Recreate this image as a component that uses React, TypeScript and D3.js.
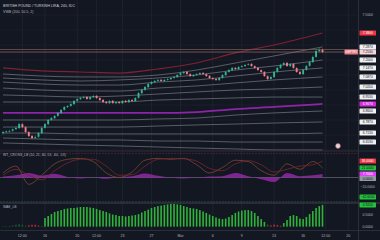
import React from "react";
import * as d3 from "d3";

const W = 380;
const H = 240;

const opens = [6.712, 6.719, 6.725, 6.728, 6.739, 6.746, 6.772, 6.752, 6.719, 6.694,
  6.681, 6.688, 6.712, 6.748, 6.772, 6.801, 6.812, 6.828, 6.846, 6.868,
  6.886, 6.894, 6.906, 6.928, 6.939, 6.948, 6.954, 6.939, 6.952, 6.961,
  6.946, 6.934, 6.921, 6.912, 6.928, 6.912, 6.921, 6.912, 6.928, 6.919,
  6.934, 6.926, 6.948, 6.979, 7.001, 7.019, 7.041, 7.052, 7.061, 7.068,
  7.059, 7.068, 7.072, 7.081, 7.086, 7.101, 7.112, 7.121, 7.106, 7.092,
  7.101, 7.106, 7.114, 7.106, 7.094, 7.079, 7.074, 7.066, 7.081, 7.099,
  7.121, 7.132, 7.148, 7.139, 7.154, 7.159, 7.168, 7.174, 7.159, 7.148,
  7.132, 7.121, 7.092, 7.074, 7.086, 7.121, 7.146, 7.168, 7.181, 7.159,
  7.174, 7.146, 7.121, 7.106, 7.134, 7.161, 7.186, 7.221, 7.259, 7.268];
const highs = [6.728, 6.731, 6.735, 6.744, 6.758, 6.782, 6.779, 6.760, 6.726, 6.700,
  6.697, 6.720, 6.755, 6.780, 6.808, 6.820, 6.834, 6.853, 6.874, 6.893,
  6.900, 6.915, 6.934, 6.947, 6.955, 6.962, 6.960, 6.959, 6.968, 6.966,
  6.952, 6.940, 6.927, 6.934, 6.933, 6.927, 6.926, 6.933, 6.934, 6.940,
  6.939, 6.953, 6.987, 7.008, 7.027, 7.047, 7.060, 7.068, 7.074, 7.073,
  7.075, 7.080, 7.087, 7.094, 7.107, 7.120, 7.128, 7.127, 7.112, 7.106,
  7.114, 7.120, 7.119, 7.111, 7.100, 7.085, 7.079, 7.087, 7.107, 7.127,
  7.141, 7.155, 7.153, 7.161, 7.167, 7.174, 7.180, 7.179, 7.165, 7.153,
  7.138, 7.126, 7.098, 7.093, 7.128, 7.155, 7.175, 7.189, 7.187, 7.180,
  7.179, 7.152, 7.126, 7.140, 7.168, 7.195, 7.229, 7.272, 7.280, 7.276];
const lows = [6.704, 6.713, 6.718, 6.722, 6.733, 6.740, 6.745, 6.712, 6.685, 6.672,
  6.674, 6.682, 6.706, 6.742, 6.766, 6.795, 6.806, 6.822, 6.840, 6.862,
  6.880, 6.888, 6.900, 6.922, 6.933, 6.942, 6.934, 6.933, 6.946, 6.940,
  6.926, 6.913, 6.906, 6.906, 6.907, 6.906, 6.907, 6.906, 6.914, 6.913,
  6.920, 6.920, 6.942, 6.973, 6.995, 7.013, 7.035, 7.046, 7.055, 7.054,
  7.053, 7.062, 7.066, 7.075, 7.080, 7.095, 7.106, 7.100, 7.086, 7.086,
  7.095, 7.100, 7.101, 7.087, 7.073, 7.066, 7.060, 7.060, 7.075, 7.093,
  7.115, 7.126, 7.134, 7.133, 7.148, 7.153, 7.162, 7.154, 7.141, 7.127,
  7.114, 7.087, 7.066, 7.068, 7.080, 7.115, 7.140, 7.162, 7.154, 7.153,
  7.141, 7.114, 7.100, 7.100, 7.128, 7.155, 7.180, 7.214, 7.252, 7.246];
const closes = [6.720, 6.724, 6.727, 6.738, 6.747, 6.773, 6.753, 6.720, 6.693, 6.680,
  6.687, 6.713, 6.747, 6.773, 6.800, 6.813, 6.827, 6.847, 6.867, 6.887,
  6.893, 6.907, 6.927, 6.940, 6.947, 6.953, 6.940, 6.953, 6.960, 6.947,
  6.933, 6.920, 6.913, 6.927, 6.913, 6.920, 6.913, 6.927, 6.920, 6.933,
  6.927, 6.947, 6.980, 7.000, 7.020, 7.040, 7.053, 7.060, 7.067, 7.060,
  7.067, 7.073, 7.080, 7.087, 7.100, 7.113, 7.120, 7.107, 7.093, 7.100,
  7.107, 7.113, 7.107, 7.093, 7.080, 7.073, 7.067, 7.080, 7.100, 7.120,
  7.133, 7.147, 7.140, 7.153, 7.160, 7.167, 7.173, 7.160, 7.147, 7.133,
  7.120, 7.093, 7.073, 7.087, 7.120, 7.147, 7.167, 7.180, 7.160, 7.173,
  7.147, 7.120, 7.107, 7.133, 7.160, 7.187, 7.220, 7.260, 7.267, 7.253];

// VWAP-style band samples at these bar indices
const bandIdx = [0, 12, 24, 36, 48, 60, 72, 84, 99];
const redBand = [7.147, 7.127, 7.120, 7.113, 7.140, 7.180, 7.247, 7.300, 7.380];
const upper6 = [7.107, 7.093, 7.087, 7.087, 7.100, 7.133, 7.180, 7.227, 7.287];
const upper5 = [7.080, 7.067, 7.060, 7.067, 7.080, 7.100, 7.133, 7.160, 7.200];
const upper4 = [7.053, 7.040, 7.033, 7.033, 7.053, 7.067, 7.093, 7.120, 7.147];
const upper3 = [7.013, 7.000, 6.993, 6.993, 7.013, 7.027, 7.047, 7.067, 7.087];
const upper2 = [6.967, 6.960, 6.953, 6.960, 6.973, 6.987, 7.000, 7.007, 7.020];
const upper1 = [6.920, 6.920, 6.920, 6.920, 6.933, 6.940, 6.947, 6.953, 6.953];
const midBand = [6.847, 6.847, 6.847, 6.847, 6.847, 6.853, 6.873, 6.887, 6.907];
const lower1 = [6.800, 6.800, 6.800, 6.800, 6.807, 6.813, 6.833, 6.847, 6.860];
const lower2 = [6.753, 6.753, 6.753, 6.753, 6.760, 6.767, 6.773, 6.780, 6.787];
const lower3 = [6.713, 6.713, 6.707, 6.707, 6.707, 6.707, 6.707, 6.707, 6.713];
const lower4 = [6.680, 6.673, 6.667, 6.667, 6.660, 6.660, 6.653, 6.653, 6.653];
const lower5 = [6.647, 6.640, 6.633, 6.627, 6.620, 6.613, 6.607, 6.600, 6.600];
const whiteBands = [upper6, upper5, upper4, upper3, upper2, upper1, lower1, lower2, lower3, lower4, lower5];
const labelledBands = [upper6, upper5, upper4, upper3, upper2, upper1, lower1, lower2, lower3, lower4];
const levelLine = 7.27;

// WaveTrend pane
const wtIdx = [0, 4, 8, 12, 16, 20, 24, 28, 32, 36, 40, 44, 48, 52, 56, 60, 64, 68, 72, 76, 80, 84, 88, 92, 96, 99];
const wt1 = [10, 25, -15, 5, 30, 40, 42, 35, 10, 0, 12, 38, 42, 40, 42, 28, 10, 22, 38, 35, 15, 5, 30, 18, 35, 21];
const wt2 = [5, 18, 5, -5, 15, 32, 40, 40, 25, 5, 6, 25, 40, 42, 41, 36, 20, 15, 30, 37, 28, 12, 18, 25, 28, 36];
const wtMom = [2, 5, 10, 4, 8, 1, -2, 0, -3, 1, 3, 9, 4, 0, -2, 0, 2, 3, 10, 3, -4, -10, 10, 3, 5, 7.7];
const wtOB = 53;
const wtOS = -53;

// Histogram pane
const hist = [0.02, 0.02, 0.03, 0.05, 0.08, 0.10, 0.08, 0.04, 0.06, 0.08,
  0.08, 0.05, 0.03, 0.365, 0.45, 0.535, 0.62, 0.66, 0.70, 0.75,
  0.77, 0.79, 0.79, 0.81, 0.83, 0.83, 0.83, 0.81, 0.79, 0.75,
  0.70, 0.66, 0.62, 0.56, 0.51, 0.49, 0.45, 0.45, 0.43, 0.45,
  0.47, 0.49, 0.53, 0.60, 0.66, 0.72, 0.79, 0.83, 0.87, 0.89,
  0.92, 0.94, 0.96, 0.96, 0.94, 0.92, 0.87, 0.83, 0.79, 0.77,
  0.75, 0.70, 0.64, 0.58, 0.51, 0.45, 0.39, 0.34, 0.32, 0.34,
  0.41, 0.49, 0.58, 0.64, 0.68, 0.70, 0.70, 0.66, 0.58, 0.45,
  0.32, 0.20, 0.09, 0.06, 0.09, 0.07, 0.04, 0.15, 0.28, 0.45,
  0.49, 0.45, 0.34, 0.32, 0.41, 0.53, 0.66, 0.79, 0.87, 0.92];
const histDownIdx = [8, 9, 10, 11, 83, 84, 85, 86];

const timeTickIdx = [6, 13, 23, 29, 37, 46, 55, 65, 74, 84, 93, 100, 107];
const timeTickLabels = ["12:00", "16", "20", "12:00", "23", "27", "Mar", "6", "9", "13", "16", "12:00", "20"];
const priceGrid = [7.5, 7.4, 7.3, 7.2, 7.1, 7.0, 6.9, 6.8, 6.7, 6.6];
const priceAxisText = [7.5];
const wtAxisText = [-20];
const wtExtraLevel = -42.6;
const histAxisText = [0.5, 0];

const BG = "#131722";
const GRID = "#1e222d";
const UP = "#33b58c";
const DOWN = "#ee7e8a";
const AXIS_TXT = "#b2b5be";
const FONT = "Liberation Sans, Arial, sans-serif";

const fmt = d3.format(".4f");

function Box({ y, text, fill, color }: { y: number; text: string; fill: string; color: string }) {
  return (
    <g>
      <rect x={359.5} y={y - 2.5} width={16.5} height={5} rx={0.6} fill={fill} />
      <text x={367.7} y={y + 1.2} fontSize={3.3} textAnchor="middle" fill={color}>{text}</text>
    </g>
  );
}

export default function App() {
  const x = d3.scaleLinear().domain([0, 110]).range([3, 358]);
  const yP = d3.scaleLinear().domain([6.6, 7.5]).range([150, 15]);
  const yW = d3.scaleLinear().domain([-56, 56]).range([203, 152]);
  const yH = d3.scaleLinear().domain([-0.1, 1.0]).range([229, 203]);

  const bandLine = d3.line<number>().x((_, k) => x(bandIdx[k])).y((v) => yP(v)).curve(d3.curveMonotoneX);
  const wtLine = d3.line<number>().x((_, k) => x(wtIdx[k])).y((v) => yW(v)).curve(d3.curveMonotoneX);
  const momArea = d3.area<number>().x((_, k) => x(wtIdx[k])).y0(yW(0)).y1((v) => yW(v)).curve(d3.curveMonotoneX);

  const n = closes.length;
  const last = n - 1;
  const bw = 1.9;
  const lastOf = (a: number[]) => a[a.length - 1];

  return (
    <svg width={W} height={H} style={{ position: "fixed", left: 0, top: 0, background: BG }} fontFamily={FONT}>
      <defs>
        <clipPath id="mainClip"><rect x={0} y={0} width={358} height={151} /></clipPath>
        <clipPath id="wtClip"><rect x={0} y={151} width={358} height={52} /></clipPath>
      </defs>
      <rect x={0} y={0} width={W} height={H} fill={BG} />

      {/* grid */}
      {timeTickIdx.map((t, k) => (
        <line key={"vg" + k} x1={x(t)} x2={x(t)} y1={0} y2={230} stroke={GRID} strokeWidth={1} />
      ))}
      {priceGrid.map((p, k) => (
        <line key={"hg" + k} x1={0} x2={358} y1={yP(p)} y2={yP(p)} stroke={GRID} strokeWidth={0.8} />
      ))}

      {/* main pane */}
      <g clipPath="url(#mainClip)">
        {whiteBands.map((b, k) => (
          <path key={"wb" + k} d={bandLine(b) || ""} fill="none" stroke="#c9ccd4" strokeOpacity={0.55} strokeWidth={0.7} />
        ))}
        <path d={bandLine(midBand) || ""} fill="none" stroke="#8e24aa" strokeWidth={1.7} />
        <path d={bandLine(redBand) || ""} fill="none" stroke="#7e2232" strokeWidth={1.2} />
        <line x1={0} x2={358} y1={yP(levelLine)} y2={yP(levelLine)} stroke="#7d5f55" strokeWidth={0.7} />
        <line x1={0} x2={358} y1={yP(closes[last])} y2={yP(closes[last])} stroke="#9a6a70" strokeWidth={0.7} />
        {closes.map((c, i) => {
          const o = opens[i];
          const up = c >= o;
          const col = up ? UP : DOWN;
          const top = yP(Math.max(o, c));
          const bot = yP(Math.min(o, c));
          return (
            <g key={"c" + i}>
              <line x1={x(i)} x2={x(i)} y1={yP(highs[i])} y2={yP(lows[i])} stroke={col} strokeWidth={0.5} />
              <rect x={x(i) - bw / 2} y={top} width={bw} height={Math.max(0.7, bot - top)} fill={col} />
            </g>
          );
        })}
      </g>
      <text x={3} y={7} fontSize={3.6} fill="#d1d4dc">BRITISH POUND / TURKISH LIRA, 240, IDC</text>
      <text x={3} y={12.5} fontSize={3.6} fill="#b2b5be">VWB (200, 50.5, 2)</text>
      <rect x={344.5} y={yP(closes[last]) - 2.5} width={13.5} height={5} rx={0.6} fill="#e87882" />
      <text x={351.2} y={yP(closes[last]) + 1.1} fontSize={3.0} textAnchor="middle" fill="#ffffff">GBPTRY</text>
      <circle cx={338} cy={146} r={2.4} fill="#e9d3d8" stroke="#b86b7a" strokeWidth={0.6} />

      {/* WaveTrend pane */}
      <line x1={0} x2={380} y1={151} y2={151} stroke="#2a2e39" strokeWidth={1} />
      <g clipPath="url(#wtClip)">
        <line x1={0} x2={358} y1={yW(wtOB)} y2={yW(wtOB)} stroke="#6a2430" strokeWidth={0.7} strokeDasharray="2,1" />
        <line x1={0} x2={358} y1={yW(wtOS)} y2={yW(wtOS)} stroke="#244a33" strokeWidth={0.7} strokeDasharray="2,1" />
        <line x1={0} x2={358} y1={yW(0)} y2={yW(0)} stroke="#5d606b" strokeWidth={0.8} />
        <path d={momArea(wtMom) || ""} fill="#9c27b0" fillOpacity={0.8} />
        <path d={wtLine(wt1) || ""} fill="none" stroke="#7a4a32" strokeWidth={0.8} />
        <path d={wtLine(wt2) || ""} fill="none" stroke="#7c2430" strokeWidth={0.8} />
      </g>
      <text x={3} y={156} fontSize={3.4} fill="#b2b5be">WT_CROSS_LB (10, 21, 60, 53, -60, -53)</text>

      {/* histogram pane */}
      <line x1={0} x2={380} y1={203} y2={203} stroke="#4a4e5a" strokeWidth={0.8} />
      {hist.map((v, i) => {
        const down = histDownIdx.includes(i);
        const tiny = !down && v < 0.12;
        const col = down ? "#b02c38" : tiny ? "#1f5a2a" : "#2fb43a";
        return (
          <rect key={"h" + i} x={x(i) - 0.8} y={yH(v)} width={1.6} height={Math.max(0.5, yH(0) - yH(v))} fill={col} />
        );
      })}
      <text x={3} y={208} fontSize={3.4} fill="#b2b5be">WAE_LB</text>

      {/* time axis */}
      <line x1={0} x2={380} y1={230.5} y2={230.5} stroke="#2a2e39" strokeWidth={1} />
      {timeTickIdx.map((t, k) => (
        <text key={"tt" + k} x={x(t)} y={237} fontSize={3.6} textAnchor="middle" fill={AXIS_TXT}>{timeTickLabels[k]}</text>
      ))}

      {/* price axis */}
      <line x1={358.5} x2={358.5} y1={0} y2={240} stroke="#2a2e39" strokeWidth={1} />
      {priceAxisText.map((p, k) => (
        <text key={"pa" + k} x={367.7} y={yP(p) + 1.2} fontSize={3.4} textAnchor="middle" fill={AXIS_TXT}>{fmt(p)}</text>
      ))}
      <Box y={yP(lastOf(redBand))} text={fmt(lastOf(redBand))} fill="#f23645" color="#ffffff" />
      {labelledBands.map((b, k) => (
        <Box key={"lb" + k} y={yP(lastOf(b))} text={fmt(lastOf(b))} fill="#f0f0f2" color="#131722" />
      ))}
      <Box y={yP(closes[last])} text={fmt(closes[last])} fill="#f6d6da" color="#131722" />
      <Box y={yP(lastOf(midBand))} text={fmt(lastOf(midBand))} fill="#d42be0" color="#ffffff" />

      <Box y={yW(lastOf(wt2))} text={fmt(lastOf(wt2))} fill="#f23645" color="#ffffff" />
      <Box y={yW(lastOf(wt1))} text={fmt(lastOf(wt1))} fill="#22c33a" color="#131722" />
      <Box y={yW(lastOf(wtMom))} text={fmt(lastOf(wtMom))} fill="#e040fb" color="#ffffff" />
      <Box y={yW(0) + 1} text={fmt(0)} fill="#9598a1" color="#131722" />
      {wtAxisText.map((v, k) => (
        <text key={"wa" + k} x={367.7} y={yW(v) + 1.2} fontSize={3.4} textAnchor="middle" fill={AXIS_TXT}>{fmt(v)}</text>
      ))}
      <Box y={yW(wtExtraLevel)} text={fmt(wtExtraLevel)} fill="#22c33a" color="#131722" />
      {histAxisText.map((v, k) => (
        <text key={"ha" + k} x={367.7} y={yH(v) + 1.2} fontSize={3.4} textAnchor="middle" fill={AXIS_TXT}>{fmt(v)}</text>
      ))}
      <Box y={yH(lastOf(hist))} text={fmt(lastOf(hist))} fill="#22c33a" color="#131722" />
    </svg>
  );
}
